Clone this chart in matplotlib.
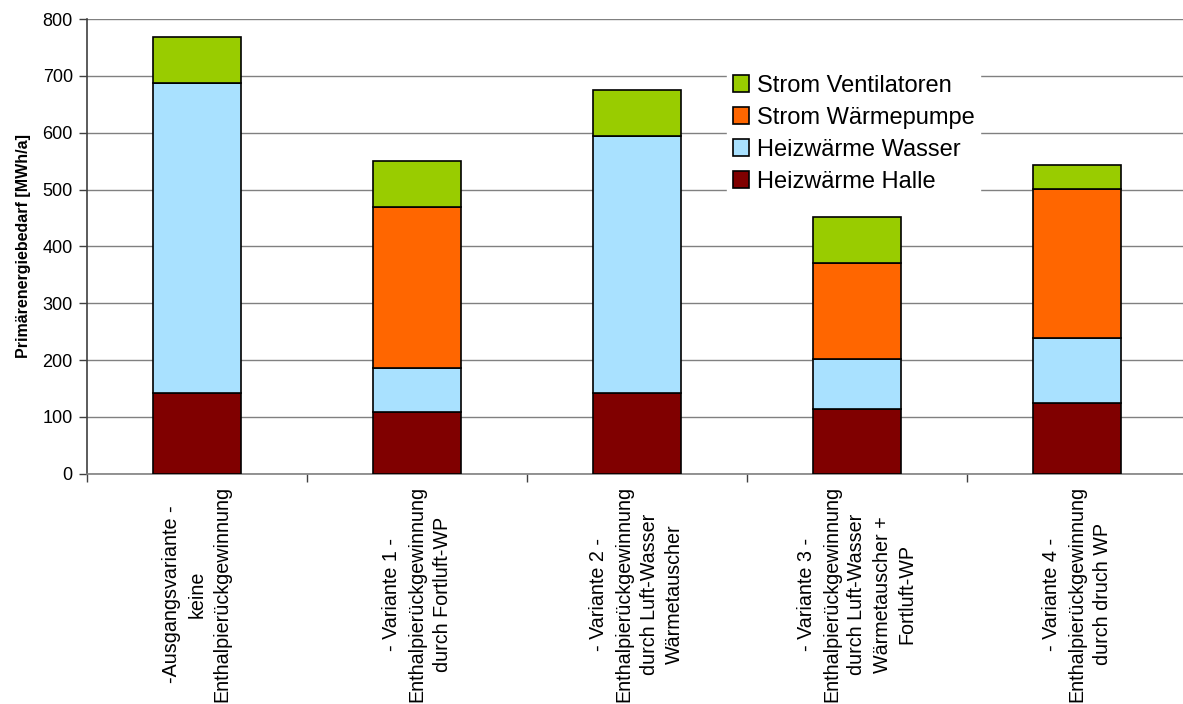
import matplotlib
matplotlib.use("Agg")
import matplotlib.pyplot as plt
import numpy as np

plt.rcParams['font.family'] = ['Liberation Sans', 'DejaVu Sans']

categories = [
    "-Ausgangsvariante -\nkeine\nEnthalpierückgewinnung",
    "- Variante 1 -\nEnthalpierückgewinnung\ndurch Fortluft-WP",
    "- Variante 2 -\nEnthalpierückgewinnung\ndurch Luft-Wasser\nWärmetauscher",
    "- Variante 3 -\nEnthalpierückgewinnung\ndurch Luft-Wasser\nWärmetauscher +\nFortluft-WP",
    "- Variante 4 -\nEnthalpierückgewinnung\ndurch druch WP",
]

heizwaerme_halle = [142, 108, 142, 113, 125]
heizwaerme_wasser = [545, 78, 452, 88, 114]
strom_waermepumpe = [0, 284, 0, 170, 262]
strom_ventilatoren = [82, 81, 81, 81, 43]

series = [
    ("Heizwärme Halle", heizwaerme_halle, "#800000"),
    ("Heizwärme Wasser", heizwaerme_wasser, "#A9E1FF"),
    ("Strom Wärmepumpe", strom_waermepumpe, "#FF6600"),
    ("Strom Ventilatoren", strom_ventilatoren, "#99CC00"),
]

W, H = 1183, 704
fig = plt.figure(figsize=(W / 100, H / 100), dpi=100)
ax = fig.add_axes([86.7 / W, (H - 473.7) / H, 1100 / W, 454.7 / H])

x = np.arange(len(categories))
bottom = np.zeros(len(categories))
handles = {}
for name, vals, color in series:
    vals = np.array(vals, dtype=float)
    bars = ax.bar(x, vals, width=0.4, bottom=bottom, color=color,
                  edgecolor="black", linewidth=1.2, label=name, zorder=3)
    handles[name] = bars
    bottom += vals

ax.set_xlim(-0.5, len(categories) - 0.5)
ax.set_ylim(0, 800)
ax.set_yticks(np.arange(0, 801, 100))
ax.yaxis.grid(True, color="#808080", linewidth=1.0, zorder=0)
ax.set_axisbelow(True)

# category separators as minor ticks, labels centered under bars
ax.set_xticks(x)
ax.set_xticklabels(categories, rotation=90, fontsize=14.2,
                   multialignment="center", linespacing=1.42)
ax.tick_params(axis="x", which="major", length=0, pad=9)
ax.set_xticks(np.arange(-0.5, len(categories), 1.0), minor=True)
ax.tick_params(axis="x", which="minor", length=6, width=1, color="#404040")
ax.tick_params(axis="y", length=6, width=1, color="#404040",
               labelsize=13, pad=4)

for side in ["top", "right"]:
    ax.spines[side].set_visible(False)
ax.spines["left"].set_color("#404040")
ax.spines["left"].set_linewidth(1.2)
ax.spines["bottom"].set_color("#808080")
ax.spines["bottom"].set_linewidth(1.2)

ax.set_ylabel("Primärenergiebedarf [MWh/a]", fontsize=11.5,
              fontweight="bold", labelpad=8)

order = ["Strom Ventilatoren", "Strom Wärmepumpe",
         "Heizwärme Wasser", "Heizwärme Halle"]
leg = ax.legend([handles[n] for n in order], order,
                loc="upper left", bbox_to_anchor=(727 / W, 1 - 69 / H),
                bbox_transform=fig.transFigure,
                fontsize=17, frameon=True, fancybox=False,
                handlelength=0.7, handleheight=0.7, handletextpad=0.3,
                labelspacing=0.42, borderpad=0.25, borderaxespad=0)
leg.get_frame().set_edgecolor("white")
leg.get_frame().set_facecolor("white")
leg.get_frame().set_alpha(1.0)
leg.set_zorder(5)

fig.savefig("out.png", dpi=100)
